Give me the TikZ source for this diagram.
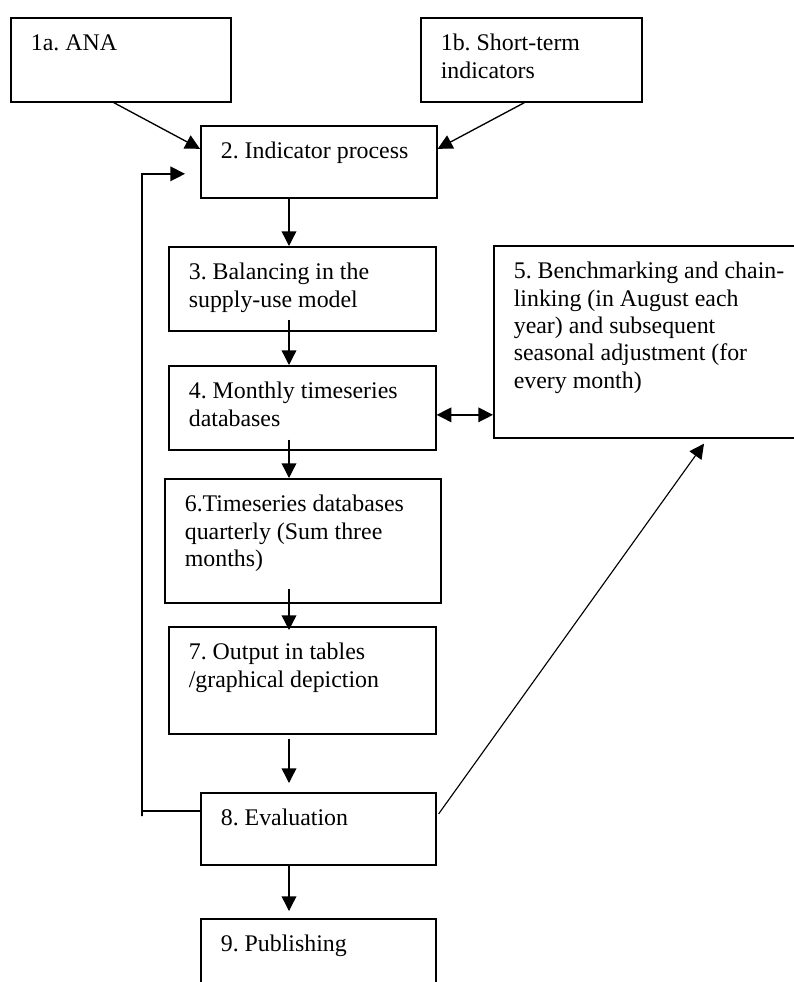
\documentclass[tikz,border=0pt]{standalone}
\usepackage{fontspec}
\setmainfont{Liberation Serif}
\usetikzlibrary{arrows.meta,calc}

\tikzset{
	stage/.style={draw, line width=1.25pt, anchor=north west, inner xsep=15pt, inner ysep=10.4pt, font=\fontsize{17.9pt}{20.5pt}\selectfont\frenchspacing},
	flow/.style={line width=1pt, -{Triangle[length=11pt,width=11pt]}},
	twoway/.style={line width=1pt, {Triangle[length=11pt,width=11pt]}-{Triangle[length=11pt,width=11pt]}},
}

\newcommand{\stagebox}[6]{
	\pgfmathsetmacro{\STw}{0.75*#4-30}
	\pgfmathsetmacro{\STh}{0.75*#5-20.8}
	\node[stage] (#1) at (#2,#3) {\parbox[c][\STh pt][t]{\STw pt}{\raggedright\strut #6}};
}

\begin{document}
\begin{tikzpicture}[x=0.75pt,y=-0.75pt]
\useasboundingbox (0,0) rectangle (793,982);

\pgfmathsetmacro{\stSpine}{289}
\pgfmathsetmacro{\stLoop}{142}

\stagebox{ana}{10}{17}{220}{84}{1a. ANA}
\stagebox{short}{420}{17}{221}{84}{1b. Short-term\\indicators}
\stagebox{ind}{200}{125}{236}{72}{2. Indicator process}
\stagebox{bal}{168}{246}{267}{84}{3. Balancing in the\\supply-use model}
\stagebox{month}{168}{365}{267}{84}{4. Monthly timeseries\\databases}
\stagebox{bench}{493}{245}{330}{192}{5. Benchmarking and chain-\\linking (in August each\\year) and subsequent\\seasonal adjustment (for\\every month)}
\stagebox{quart}{164}{478}{276}{124}{6.Timeseries databases\\quarterly (Sum three\\months)}
\stagebox{out}{168}{626}{267}{107}{7. Output in tables\\/graphical depiction}
\stagebox{eval}{200}{792}{235}{72}{8. Evaluation}
\stagebox{pub}{200}{918}{235}{90}{9. Publishing}

\coordinate (spine) at (\stSpine,0);
\coordinate (loop) at (\stLoop,816);
\coordinate (mid) at ($(month.east)+(0,7)$);

\draw[flow] ($(ana.south)+(-7,0)$) -- ($(ind.west)+(0,-13)$);
\draw[flow] ($(short.south)+(-7,0)$) -- ($(ind.east)+(0,-13)$);
\draw[flow] (ind.south -| spine) -- (bal.north -| spine);
\draw[flow] ($(bal.south -| spine)+(0,-12)$) -- (month.north -| spine);
\draw[flow] ($(month.south -| spine)+(0,-11)$) -- (quart.north -| spine);
\draw[flow] ($(quart.south -| spine)+(0,-15)$) -- ($(out.north -| spine)+(0,4)$);
\draw[flow] ($(out.south -| spine)+(0,4)$) -- ($(eval.north -| spine)+(0,-9)$);
\draw[flow] (eval.south -| spine) -- ($(pub.north -| spine)+(0,-7)$);
\draw[twoway] (mid) -- (mid -| bench.west);
\draw[flow] ($(eval.west)+(0,-18)$) -| (loop) |- ($(ind.west)+(-15,12)$);
\draw[flow, line width=0.85pt] ($(eval.east)+(2,-15)$) -- ($(bench.south west)+(211,5)$);
\end{tikzpicture}
\end{document}
